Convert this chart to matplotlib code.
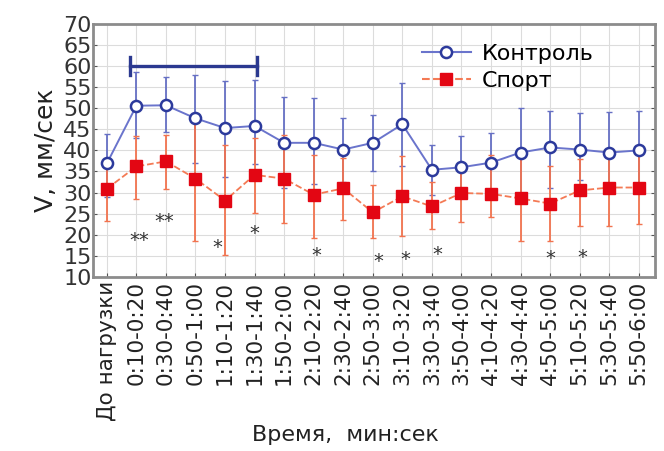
import matplotlib
matplotlib.use("Agg")
import matplotlib.pyplot as plt
import numpy as np

plt.rcParams.update({"font.family": "DejaVu Sans"})

# ---- data ----
labels = ["До нагрузки", "0:10-0:20", "0:30-0:40", "0:50-1:00", "1:10-1:20",
          "1:30-1:40", "1:50-2:00", "2:10-2:20", "2:30-2:40", "2:50-3:00",
          "3:10-3:20", "3:30-3:40", "3:50-4:00", "4:10-4:20", "4:30-4:40",
          "4:50-5:00", "5:10-5:20", "5:30-5:40", "5:50-6:00"]

ctrl_mean = [36.9, 50.6, 50.7, 47.6, 45.3, 45.8, 41.8, 41.8, 40.2, 41.8,
             46.2, 35.4, 36.0, 37.1, 39.5, 40.7, 40.2, 39.5, 40.0]
ctrl_hi = [44.0, 58.6, 57.4, 58.0, 56.5, 56.7, 52.6, 52.5, 47.8, 48.3,
           55.9, 41.4, 43.3, 44.1, 50.0, 49.3, 48.8, 49.0, 49.3]
ctrl_lo = [29.0, 43.0, 44.3, 37.0, 33.8, 36.7, 31.0, 32.0, 32.6, 35.2,
           36.4, 29.5, 31.0, 30.2, 29.8, 31.2, 32.9, 32.3, 32.3]

sport_mean = [30.9, 36.2, 37.4, 33.3, 28.1, 34.2, 33.3, 29.5, 31.0, 25.3,
              29.1, 26.7, 29.9, 29.7, 28.6, 27.4, 30.5, 31.2, 31.2]
sport_hi = [38.3, 43.3, 43.6, 48.8, 41.2, 42.9, 43.6, 38.8, 38.3, 31.9,
            38.6, 32.6, 36.8, 39.0, 38.8, 36.2, 38.0, 40.2, 39.8]
sport_lo = [23.3, 28.5, 30.9, 18.4, 15.2, 25.2, 22.9, 19.3, 23.5, 19.2,
            19.8, 21.4, 23.1, 24.3, 18.6, 18.4, 22.0, 22.1, 22.6]

# significance marks: (category position, value, text)
stars = [(1.1, 18.6, "**"), (1.95, 23.1, "**"), (3.75, 16.9, "*"),
         (5.0, 20.2, "*"), (7.1, 15.0, "*"), (9.2, 13.6, "*"),
         (10.1, 14.2, "*"), (11.2, 15.2, "*"), (15.0, 14.3, "*"),
         (16.1, 14.6, "*")]
bracket = (0.78, 5.08, 60.0)

x = np.arange(len(labels))
cm, ch, cl = map(np.array, (ctrl_mean, ctrl_hi, ctrl_lo))
sm, sh, sl = map(np.array, (sport_mean, sport_hi, sport_lo))

fig = plt.figure(figsize=(6.64, 4.51), dpi=100)
ax = fig.add_axes([0.140, 0.386, 0.846, 0.561])

ax.errorbar(x, cm, yerr=[cm - cl, ch - cm], fmt="none", ecolor="#6670c4",
            elinewidth=1.3, capsize=2, capthick=1.0, zorder=2)
ax.errorbar(x, sm, yerr=[sm - sl, sh - sm], fmt="none", ecolor="#f2734f",
            elinewidth=1.3, capsize=2, capthick=1.0, zorder=2)
ax.plot(x, cm, "-", color="#6a74cc", lw=1.4, zorder=3)
ax.plot(x, cm, "o", ls="none", ms=8, mfc="white", mec="#2c3a9c", mew=1.8,
        zorder=5)
ax.plot(x, sm, "--", color="#f47a55", lw=1.3, zorder=3)
ax.plot(x, sm, "s", ls="none", ms=9, mfc="#e30613", mec="#e30613", zorder=5)

# legend proxies
ax.plot([], [], "-o", color="#6a74cc", mfc="white", mec="#2c3a9c", mew=1.8,
        ms=8, label="Контроль")
ax.plot([], [], "--s", color="#f47a55", mfc="#e30613", mec="#e30613", ms=9,
        label="Спорт")
ax.legend(loc="upper left", bbox_to_anchor=(0.55, 1.0), frameon=False,
          fontsize=16, handlelength=2.2, handletextpad=0.5, labelspacing=0.3)

# bracket over the first intervals
x0, x1, yb = bracket
ax.plot([x0, x1], [yb, yb], color="#2b3990", lw=2.4, zorder=4)
ax.plot([x0, x0], [yb - 2.2, yb + 2.2], color="#2b3990", lw=2.4, zorder=4)
ax.plot([x1, x1], [yb - 2.2, yb + 2.2], color="#2b3990", lw=2.4, zorder=4)

for xs, ys, t in stars:
    ax.text(xs, ys, t, ha="center", va="center", fontsize=14, color="#333333")

ax.set_xlim(-0.47, 18.54)
ax.set_ylim(10, 70)
ax.set_yticks(np.arange(10, 71, 5))
ax.set_xticks(x)
ax.set_xticklabels(labels, rotation=90, fontsize=15.5, color="#222222")
ax.tick_params(axis="y", labelsize=16, labelcolor="#333333", length=0, pad=1)
ax.tick_params(axis="x", direction="in", length=3, color="#555555", pad=3)
ax.tick_params(axis="y", which="both", right=True, direction="in", length=3,
               color="#555555")
ax.grid(True, color="#dcdcdc", lw=0.8)
ax.set_axisbelow(True)
for s in ax.spines.values():
    s.set_color("#8c8c8c")
    s.set_linewidth(2.0)

ax.set_ylabel("V, мм/сек", fontsize=18, color="#222222", labelpad=4)
ax.set_xlabel("Время,  мин:сек", fontsize=16, color="#222222")
ax.xaxis.set_label_coords(0.45, -0.585)

fig.savefig("out.png", dpi=100)
